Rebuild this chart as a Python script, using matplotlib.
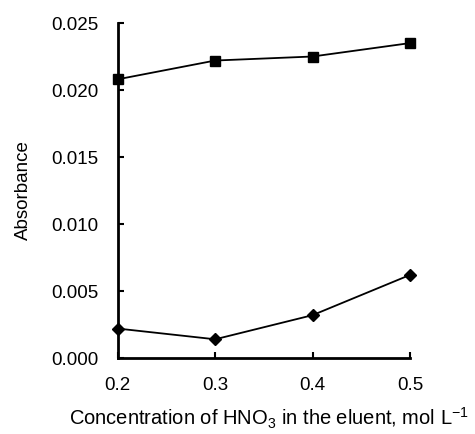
import matplotlib
matplotlib.use("Agg")
import matplotlib.pyplot as plt

plt.rcParams['font.family'] = ['Liberation Sans', 'DejaVu Sans']
plt.rcParams['mathtext.fontset'] = 'custom'
plt.rcParams['mathtext.rm'] = 'Liberation Sans'
plt.rcParams['mathtext.it'] = 'Liberation Sans'

conc = [0.2, 0.3, 0.4, 0.5]
abs_upper = [0.0208, 0.0222, 0.0225, 0.0235]
abs_lower = [0.0022, 0.0014, 0.0032, 0.0062]
xticks = [0.2, 0.3, 0.4, 0.5]
yticks = [0.000, 0.005, 0.010, 0.015, 0.020, 0.025]

fig = plt.figure(figsize=(4.75, 4.34), dpi=100)
ax = fig.add_axes([0.248, 0.175, 0.615, 0.772])

ax.plot(conc, abs_upper, color='black', lw=1.3, marker='s', ms=7, clip_on=False, zorder=3)
ax.plot(conc, abs_lower, color='black', lw=1.3, marker='D', ms=6, clip_on=False, zorder=3)

ax.set_xlim(0.2, 0.5)
ax.set_ylim(0, 0.025)
ax.set_xticks(xticks)
ax.set_xticklabels(['%.1f' % v for v in xticks])
ax.set_yticks(yticks)
ax.set_yticklabels(['%.3f' % v for v in yticks])

for side in ('top', 'right'):
    ax.spines[side].set_visible(False)
for side in ('left', 'bottom'):
    ax.spines[side].set_linewidth(2)

ax.tick_params(direction='in', length=4, width=1.5, labelsize=13.5, pad=14)

ax.set_ylabel('Absorbance', fontsize=13.5, labelpad=14)
# x label sits low and runs nearly to the right edge
fig.text(0.566, 0.008, r'Concentration of HNO$_3$ in the eluent, mol L$^{-1}$',
         fontsize=14.5, ha='center', va='bottom')

fig.savefig('out.png', dpi=100)
